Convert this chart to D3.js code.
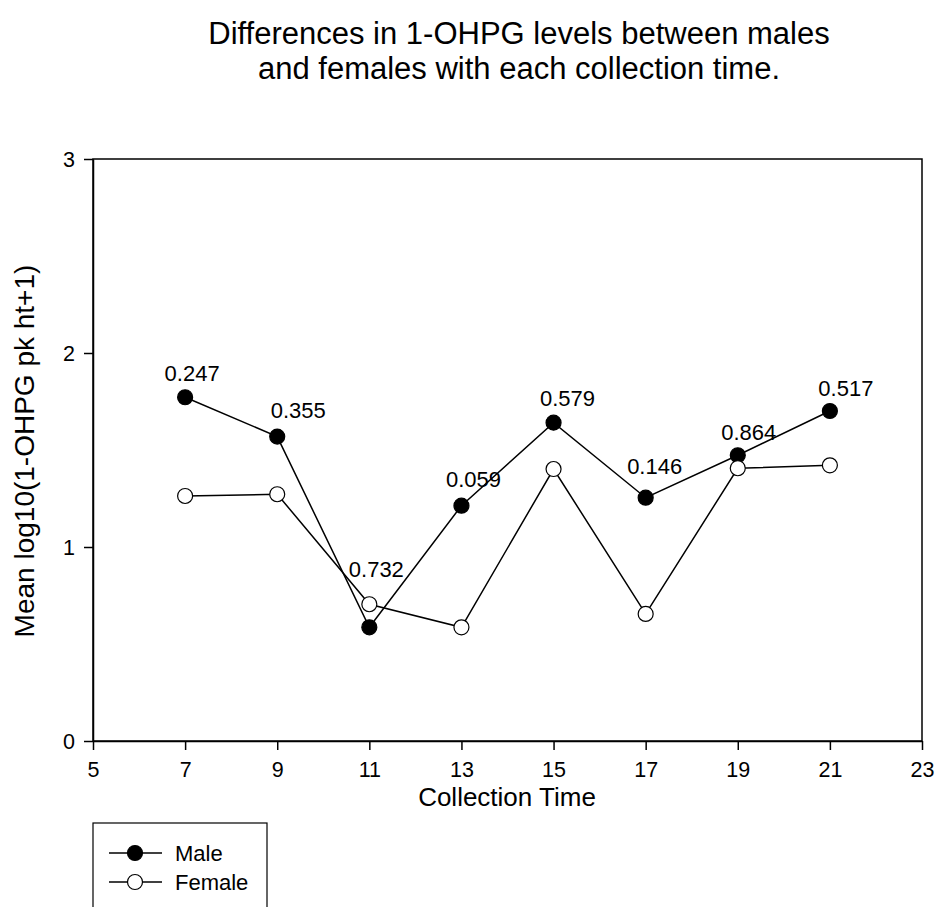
<!DOCTYPE html>
<html>
<head>
<meta charset="utf-8">
<script src="https://cdn.jsdelivr.net/npm/d3@7"></script>
<style>
  html, body { margin: 0; padding: 0; background: #fff; }
  svg { display: block; font-family: "Liberation Sans", Arial, Helvetica, sans-serif; }
</style>
</head>
<body>
<svg id="chart" width="938" height="907"></svg>
<script>
// Collection times and mean log10(1-OHPG pk ht+1) for each sex
const collectionTimes = [7, 9, 11, 13, 15, 17, 19, 21];
const maleMeans   = [1.772, 1.569, 0.586, 1.213, 1.641, 1.254, 1.473, 1.701];
const femaleMeans = [1.263, 1.272, 0.705, 0.586, 1.402, 0.655, 1.406, 1.421];
// p-values for the male/female comparison at each time
const pValues = ["0.247", "0.355", "0.732", "0.059", "0.579", "0.146", "0.864", "0.517"];
const xTicks = [5, 7, 9, 11, 13, 15, 17, 19, 21, 23];
const yTicks = [0, 1, 2, 3];
const titleLines = ["Differences in 1-OHPG levels between males",
                    "and females with each collection time."];

// offsets (px) of each p-value label from its male point
const labelNudge = [[7, -16], [21, -19], [7, -50], [12, -19], [14, -17], [9, -24], [11, -15], [16, -15]];

const svg = d3.select("#chart");
const plot = { left: 93, right: 922, top: 159, bottom: 741 };

const x = d3.scaleLinear().domain([5, 23]).range([plot.left, plot.right]);
const y = d3.scaleLinear().domain([0, 3]).range([plot.bottom, plot.top]);

// title
svg.append("text")
  .attr("text-anchor", "middle")
  .style("font-size", "31px")
  .selectAll("tspan").data(titleLines).join("tspan")
  .attr("x", 519).attr("y", (d, i) => 44 + i * 35)
  .text(d => d);

// frame
svg.append("rect")
  .attr("x", plot.left).attr("y", plot.top)
  .attr("width", plot.right - plot.left).attr("height", plot.bottom - plot.top)
  .attr("fill", "none").attr("stroke", "#000").attr("stroke-width", 1.5);

// axes
const xAxis = svg.append("g")
  .attr("transform", `translate(0,${plot.bottom})`)
  .call(d3.axisBottom(x).tickValues(xTicks).tickFormat(d3.format("d"))
    .tickSize(9).tickPadding(12).tickSizeOuter(0));
const yAxis = svg.append("g")
  .attr("transform", `translate(${plot.left},0)`)
  .call(d3.axisLeft(y).tickValues(yTicks).tickFormat(d3.format("d"))
    .tickSize(9).tickPadding(9).tickSizeOuter(0));

[xAxis, yAxis].forEach(g => {
  g.select(".domain").attr("stroke", "#000").attr("stroke-width", 1.5);
  g.selectAll(".tick line").attr("stroke", "#000").attr("stroke-width", 1.5);
  g.selectAll(".tick text").attr("fill", "#000").style("font-size", "21.5px")
    .style("font-family", "'Liberation Sans', Arial, sans-serif");
});
yAxis.selectAll(".tick text").attr("dy", "0.36em");

// axis titles
svg.append("text")
  .attr("x", 507).attr("y", 806)
  .attr("text-anchor", "middle")
  .style("font-size", "26px")
  .text("Collection Time");

svg.append("text")
  .attr("transform", `translate(34,451) rotate(-90)`)
  .attr("text-anchor", "middle")
  .style("font-size", "28px")
  .text("Mean log10(1-OHPG pk ht+1)");

// series
const series = [
  { name: "Male", values: maleMeans, fill: "#000" },
  { name: "Female", values: femaleMeans, fill: "#fff" }
];

const line = d3.line().x(d => x(d.t)).y(d => y(d.v));

series.forEach(s => {
  const pts = collectionTimes.map((t, i) => ({ t, v: s.values[i] }));
  svg.append("path")
    .datum(pts)
    .attr("d", line)
    .attr("fill", "none").attr("stroke", "#000").attr("stroke-width", 1.5);
  svg.append("g").selectAll("circle").data(pts).join("circle")
    .attr("cx", d => x(d.t)).attr("cy", d => y(d.v))
    .attr("r", 7.5)
    .attr("fill", s.fill).attr("stroke", "#000").attr("stroke-width", 1.2);
});

// p-value labels above the male points
svg.append("g").selectAll("text").data(pValues).join("text")
  .attr("x", (d, i) => x(collectionTimes[i]) + labelNudge[i][0])
  .attr("y", (d, i) => y(maleMeans[i]) + labelNudge[i][1])
  .attr("text-anchor", "middle")
  .style("font-size", "22px")
  .text(d => d);

// legend
const legend = svg.append("g");
legend.append("rect")
  .attr("x", 93).attr("y", 823).attr("width", 174).attr("height", 120)
  .attr("fill", "#fff").attr("stroke", "#000").attr("stroke-width", 1.2);
series.forEach((s, i) => {
  const ly = 853 + i * 29;
  legend.append("line")
    .attr("x1", 109).attr("x2", 162).attr("y1", ly).attr("y2", ly)
    .attr("stroke", "#000").attr("stroke-width", 1.5);
  legend.append("circle")
    .attr("cx", 135).attr("cy", ly).attr("r", 7.5)
    .attr("fill", s.fill).attr("stroke", "#000").attr("stroke-width", 1.2);
  legend.append("text")
    .attr("x", 175).attr("y", ly).attr("dy", "0.36em")
    .style("font-size", "22px")
    .text(s.name);
});
</script>
</body>
</html>
